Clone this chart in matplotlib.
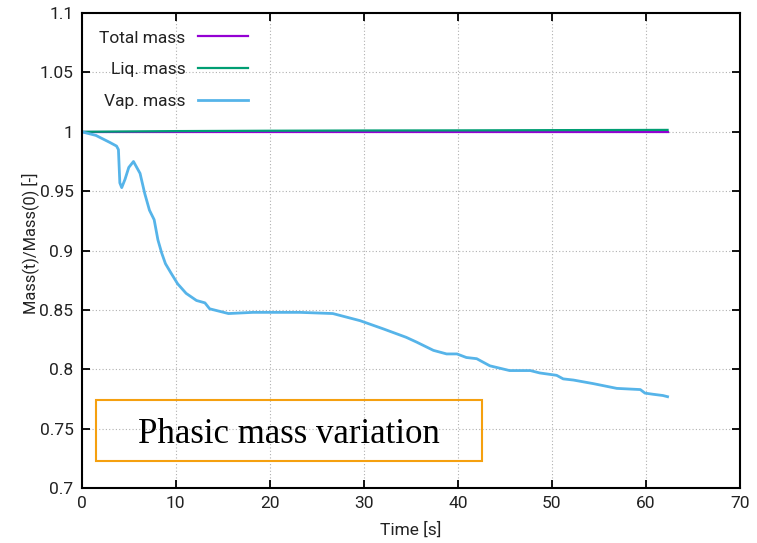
import matplotlib
matplotlib.use("Agg")
import matplotlib.pyplot as plt
from matplotlib.patches import Rectangle
from matplotlib.ticker import FuncFormatter

# ---- data ----
time_total = [0.0, 10.0, 20.0, 30.0, 40.0, 50.0, 62.3]
total_mass = [1.0, 1.0, 1.0, 1.0, 1.0, 1.0, 1.0]

time_liq = [0.0, 5.0, 10.0, 20.0, 30.0, 40.0, 50.0, 62.3]
liq_mass = [1.0, 1.0003, 1.0006, 1.0009, 1.0011, 1.0012, 1.0014, 1.0016]

time_vap = [0.0, 1.5, 3.0, 3.7, 3.9, 4.05, 4.25, 4.6, 5.0, 5.5, 6.2, 6.7, 7.2,
            7.7, 8.1, 8.5, 8.9, 9.5, 10.2, 11.1, 12.2, 13.1, 13.6, 15.6, 18.2,
            21.1, 23.2, 26.7, 29.6, 32.1, 34.5, 35.6, 37.4, 38.8, 39.9, 40.9,
            42.0, 43.4, 45.5, 47.7, 48.7, 50.5, 51.2, 52.3, 54.4, 56.9, 59.4,
            59.9, 60.8, 61.8, 62.3]
vap_mass = [1.0, 0.997, 0.991, 0.988, 0.985, 0.957, 0.953, 0.960, 0.970,
            0.975, 0.965, 0.948, 0.934, 0.926, 0.909, 0.898, 0.889, 0.881,
            0.872, 0.864, 0.858, 0.856, 0.851, 0.847, 0.848, 0.848, 0.848,
            0.847, 0.841, 0.834, 0.827, 0.823, 0.816, 0.813, 0.813, 0.810,
            0.809, 0.803, 0.799, 0.799, 0.797, 0.795, 0.792, 0.791, 0.788,
            0.784, 0.783, 0.780, 0.779, 0.778, 0.777]

x_ticks = [0, 10, 20, 30, 40, 50, 60, 70]
y_ticks = [0.7, 0.75, 0.8, 0.85, 0.9, 0.95, 1.0, 1.05, 1.1]

plt.rcParams['font.family'] = ['Roboto', 'DejaVu Sans']
FS = 12.5

fig = plt.figure(figsize=(7.57, 5.43), dpi=100)
ax = fig.add_axes([0.108, 0.101, 0.8695, 0.875])

ax.plot(time_total, total_mass, color='#9400d3', lw=1.6, label='Total mass')
ax.plot(time_liq, liq_mass, color='#009e73', lw=1.6, label='Liq. mass')
ax.plot(time_vap, vap_mass, color='#56b4e9', lw=2.0, label='Vap. mass')

ax.set_xlim(0, 70)
ax.set_ylim(0.7, 1.1)
ax.set_xticks(x_ticks)
ax.set_yticks(y_ticks)
ax.yaxis.set_major_formatter(FuncFormatter(lambda v, p: f"{v:g}"))
ax.tick_params(direction='in', length=6, width=1.3, top=True, right=True,
               labelsize=FS, colors='black', pad=6, labelcolor='#222222')
for s in ax.spines.values():
    s.set_linewidth(1.5)
ax.grid(True, color='#b0b0b0', linestyle=(0, (1, 2)), linewidth=0.8)

ax.set_xlabel('Time [s]', fontsize=FS, labelpad=7, color='#222222')
ax.set_ylabel('Mass(t)/Mass(0) [-]', fontsize=11.8, color='#222222')
ax.yaxis.set_label_coords(-0.065, 0.516)

leg = ax.legend(loc='upper left', frameon=False, markerfirst=False,
                fontsize=FS, handlelength=2.9, handletextpad=0.7,
                labelspacing=0.95, borderaxespad=0.6,
                bbox_to_anchor=(0.0, 1.0))
for t in leg.get_texts():
    t.set_color('#222222')

rect = Rectangle((0.0213, 0.057), 0.587, 0.128, transform=ax.transAxes,
                 fill=False, edgecolor='#f5a00f', lw=1.5, zorder=5)
ax.add_patch(rect)
ax.text(0.3146, 0.113, 'Phasic mass variation', transform=ax.transAxes,
        ha='center', va='center', fontsize=25, family='Liberation Serif',
        zorder=6)

fig.savefig('out.png', dpi=100)
